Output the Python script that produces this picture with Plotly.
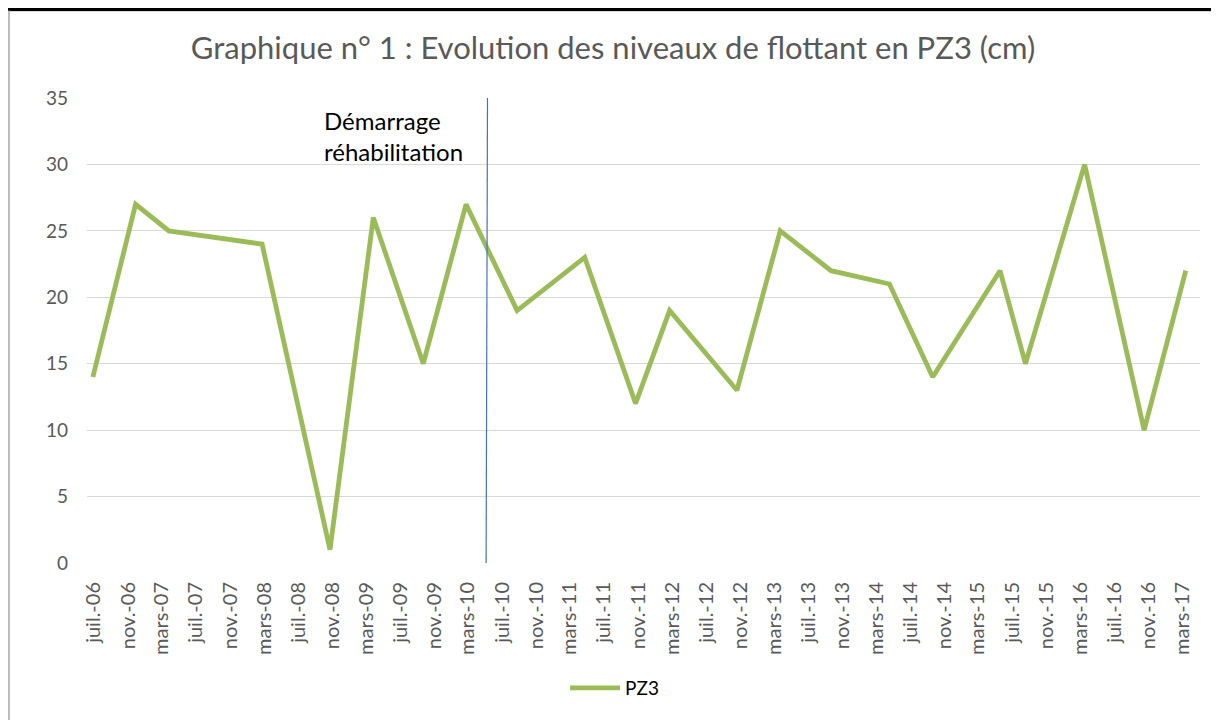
import plotly.graph_objects as go
import pandas as pd

# ---- data ----
dates = ["2006-06-27", "2006-11-27", "2007-03-26", "2008-02-23", "2008-10-23",
         "2009-03-27", "2009-09-22", "2010-02-22", "2010-08-24", "2011-04-23",
         "2011-10-22", "2012-02-21", "2012-10-19", "2013-03-23", "2013-09-21",
         "2014-04-18", "2014-09-20", "2015-05-19", "2015-08-18", "2016-03-17",
         "2016-10-16", "2017-03-14"]
pz3 = [14, 27, 25, 24, 1, 26, 15, 27, 19, 23, 12, 19, 13, 25, 22, 21, 14, 22, 15, 30, 10, 22]

tick_labels = ["juil.-06", "nov.-06",
               "mars-07", "juil.-07", "nov.-07",
               "mars-08", "juil.-08", "nov.-08",
               "mars-09", "juil.-09", "nov.-09",
               "mars-10", "juil.-10", "nov.-10",
               "mars-11", "juil.-11", "nov.-11",
               "mars-12", "juil.-12", "nov.-12",
               "mars-13", "juil.-13", "nov.-13",
               "mars-14", "juil.-14", "nov.-14",
               "mars-15", "juil.-15", "nov.-15",
               "mars-16", "juil.-16", "nov.-16",
               "mars-17"]
tick_dates = pd.date_range("2006-07-01", "2017-03-01", freq="4MS")

rehab_start = ["2010-05-05", "2010-05-10"]
rehab_text = "Démarrage<br>réhabilitation"

title = "Graphique n° 1 : Evolution des niveaux de flottant en PZ3 (cm)"

FONT = "Lato"
GREY = "#595959"

fig = go.Figure()
fig.add_trace(go.Scatter(
    x=pd.to_datetime(dates), y=pz3, mode="lines", name="PZ3",
    line=dict(color="#9BBB59", width=4.8),
))

# vertical marker line
fig.add_shape(type="line", xref="x", yref="y",
              x0=rehab_start[0], y0=0, x1=rehab_start[1], y1=35.45,
              line=dict(color="#4472C4", width=1.2))

fig.add_annotation(text=rehab_text, xref="paper", yref="paper",
                   x=0.211, y=0.918, xanchor="left", yanchor="middle",
                   align="left", showarrow=False,
                   font=dict(family=FONT, size=24, color="#000000"))

# outer frame lines (image border)
fig.add_shape(type="line", xref="paper", yref="paper",
              x0=-0.08, x1=1.02, y0=1.1903, y1=1.1903,
              line=dict(color="#000000", width=3))
fig.add_shape(type="line", xref="paper", yref="paper",
              x0=-0.0701, x1=1.02, y0=1.186, y1=1.186,
              line=dict(color="#D9D9D9", width=1))
fig.add_shape(type="line", xref="paper", yref="paper",
              x0=-0.0701, x1=-0.0701, y0=1.188, y1=-0.34,
              line=dict(color="#A6A6A6", width=1.5))
fig.add_shape(type="line", xref="paper", yref="paper",
              x0=1.0153, x1=1.0153, y0=1.188, y1=-0.34,
              line=dict(color="#D9D9D9", width=1.5))

fig.update_layout(
    width=1211, height=712,
    margin=dict(l=79, r=19, t=90, b=157),
    paper_bgcolor="white", plot_bgcolor="white",
    font=dict(family=FONT, color=GREY, size=16),
    title=dict(text=title, x=0.4996, xref="container", xanchor="center",
               y=0.9438, yref="container", yanchor="middle",
               font=dict(family=FONT, size=31, color=GREY)),
    showlegend=True,
    legend=dict(orientation="h", x=0.474, xanchor="center", y=-0.269, yanchor="middle",
                font=dict(family=FONT, size=19, color="#000000"),
                itemwidth=50),
    xaxis=dict(
        type="date", range=["2006-06-06", "2017-05-04"],
        tickmode="array", tickvals=tick_dates, ticktext=tick_labels,
        tickangle=-90, showgrid=False, zeroline=False, showline=False,
        ticks="", ticklabelstandoff=14,
        tickfont=dict(family=FONT, size=20, color=GREY),
    ),
    yaxis=dict(
        range=[0, 35], dtick=5, tick0=0, showgrid=True, gridcolor="#D9D9D9",
        gridwidth=1, zeroline=False, showline=False, ticks="",
        ticklabelstandoff=18,
        tickfont=dict(family=FONT, size=19, color=GREY),
    ),
)

fig.write_html("out.html")
